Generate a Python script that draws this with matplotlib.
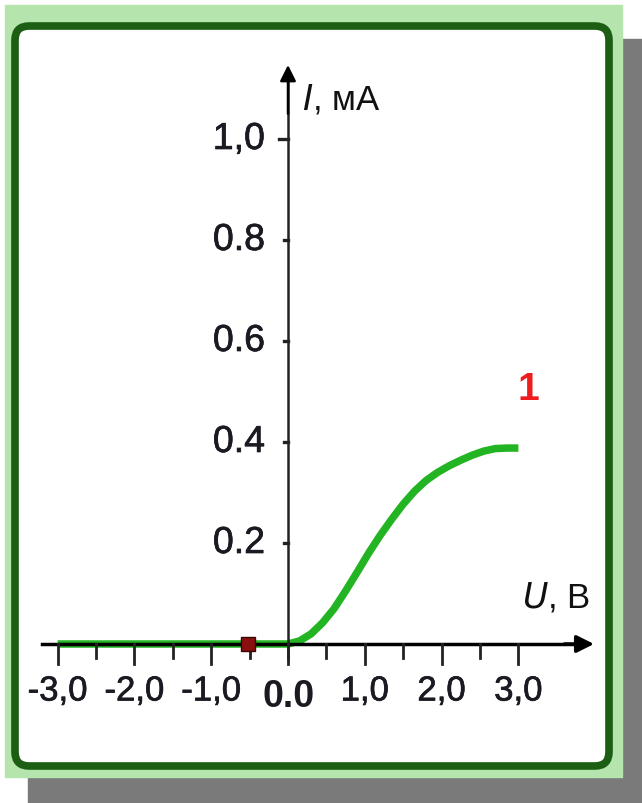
import matplotlib
matplotlib.use("Agg")
import matplotlib.pyplot as plt
from matplotlib.patches import Rectangle, FancyBboxPatch
import matplotlib.patheffects as pe

# ---- data ----
U_values = [-3.0, -2.0, -1.0, 0.0, 0.15, 0.3, 0.45, 0.6, 0.75, 0.9, 1.05, 1.2, 1.35,
            1.5, 1.65, 1.8, 1.95, 2.1, 2.25, 2.4, 2.55, 2.7, 2.85, 3.0]
I_values = [0.0, 0.0, 0.0, 0.0, 0.006, 0.02, 0.042, 0.07, 0.105, 0.142, 0.18, 0.215, 0.247,
            0.277, 0.303, 0.324, 0.34, 0.353, 0.364, 0.374, 0.382, 0.387, 0.388, 0.388]
marker_U = [-0.52]
marker_I = [0.0]
x_ticks = [-3.0, -2.0, -1.0, 0.0, 1.0, 2.0, 3.0]
x_tick_labels = ["-3,0", "-2,0", "-1,0", "0.0", "1,0", "2,0", "3,0"]
x_minor = [-2.5, -1.5, -0.5, 0.5, 1.5, 2.5]
y_ticks = [0.2, 0.4, 0.6, 0.8, 1.0]
y_tick_labels = ["0.2", "0.4", "0.6", "0.8", "1,0"]
curve_label = "1"

W, H = 642, 804
plt.rcParams['font.family'] = ['Liberation Sans', 'DejaVu Sans']

fig = plt.figure(figsize=(W / 100, H / 100), dpi=100)
fig.patch.set_facecolor('white')

def fr(x0, y0, x1, y1):
    return x0 / W, 1 - y1 / H, (x1 - x0) / W, (y1 - y0) / H

x, y, w, h = fr(28, 40, 642, 804)
fig.patches.append(Rectangle((x, y), w, h, transform=fig.transFigure, color='#7a7a7a', zorder=0))
x, y, w, h = fr(5, 6, 622, 778)
fig.patches.append(Rectangle((x, y), w, h, transform=fig.transFigure, color='#b6e4ad', zorder=1))
x, y, w, h = fr(15, 27, 609, 767)
fig.patches.append(FancyBboxPatch((x, y), w, h, boxstyle="round,pad=0,rounding_size=0.022",
                                  transform=fig.transFigure, facecolor='white',
                                  edgecolor='#1b5e14', linewidth=5.5, zorder=2,
                                  mutation_aspect=W / H))

ax = fig.add_axes([0, 0, 1, 1])
ax.set_facecolor('none')
ax.set_zorder(5)
ox, oy = 288.0, 645.0
sx, sy = 76.8, 505.0
ax.set_xlim(-ox / sx, (W - ox) / sx)
ax.set_ylim(-(H - oy) / sy, oy / sy)
ax.axis('off')

def px(dx):
    return dx / sx
def py(dy):
    return dy / sy

med_fx = [pe.withStroke(linewidth=0.5, foreground='#1a1a22')]

# curve
ax.plot(U_values, I_values, color='#22b422', lw=5.4, solid_capstyle='butt',
        solid_joinstyle='round', zorder=3)

# axes lines
ax.plot([px(42 - ox), 3.85], [0, 0], color='black', lw=2.5, zorder=4)
ax.annotate('', xy=(px(594 - ox), 0), xytext=(3.6, 0),
            arrowprops=dict(arrowstyle='-|>', mutation_scale=26, lw=2.5, color='black',
                            shrinkA=0, shrinkB=0), zorder=4)
ax.plot([0, 0], [py(-15), 1.12], color='#222222', lw=1.8, zorder=4)
ax.annotate('', xy=(0, py(oy - 66)), xytext=(0, 1.05),
            arrowprops=dict(arrowstyle='-|>', mutation_scale=24, lw=1.8, color='black',
                            shrinkA=0, shrinkB=0), zorder=4)

# x ticks
for t in x_ticks:
    ax.plot([t, t], [0, py(-20)], color='#222222', lw=2.0, zorder=4)
for t in x_minor:
    ax.plot([t, t], [0, py(-14)], color='#222222', lw=2.0, zorder=4)
for t, lab in zip(x_ticks, x_tick_labels):
    if lab == "0.0":
        ax.text(t + px(1), py(-52), lab, ha='center', va='center', fontsize=27,
                fontweight='bold', color='#1a1a22', zorder=6)
    else:
        ax.text(t, py(-47), lab, ha='center', va='center', fontsize=25,
                color='#1a1a22', zorder=6, path_effects=med_fx)

# y ticks
for t, lab in zip(y_ticks, y_tick_labels):
    L = 9 if lab == "1,0" else 4
    ax.plot([px(-L), 0], [t, t], color='#222222', lw=2.4, zorder=4)
    ax.text(px(-23), t, lab, ha='right', va='center', fontsize=27,
            color='#1a1a22', zorder=6, path_effects=med_fx)

# axis labels
ax.text(px(302 - ox), py(oy - 100), r"$\it{I}$" + ", мА", ha='left', va='center',
        fontsize=25, color='#111111', zorder=6)
ax.text(px(590 - ox), py(oy - 598), r"$\it{U}$" + ", В", ha='right', va='center',
        fontsize=25, color='#111111', zorder=6)

# marker
ax.plot(marker_U, marker_I, marker='s', markersize=10, color='#8a1010',
        markeredgecolor='#3a0505', markeredgewidth=1.0, zorder=7)

# curve label
ax.text(px(528 - ox), py(oy - 390), curve_label, ha='center', va='center', fontsize=28,
        fontweight='bold', color='#ee1c1c', zorder=6)

fig.savefig('out.png', dpi=100, facecolor='white')
